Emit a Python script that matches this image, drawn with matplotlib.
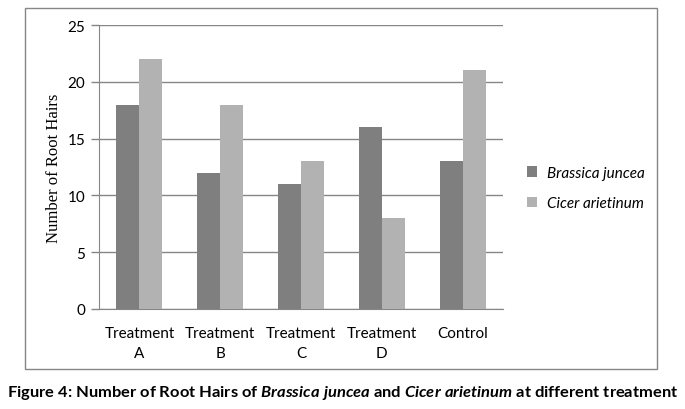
import matplotlib
matplotlib.use("Agg")
import matplotlib.pyplot as plt
import numpy as np
from matplotlib.patches import Rectangle

categories = ["Treatment\nA", "Treatment\nB", "Treatment\nC", "Treatment\nD", "Control"]
brassica = [18, 12, 11, 16, 13]
cicer = [22, 18, 13, 8, 21]
series_names = ["Brassica juncea", "Cicer arietinum"]
y_ticks = [0, 5, 10, 15, 20, 25]

dark = "#7f7f7f"
light = "#b2b2b2"
line_col = "#868686"
font = "Lato"

# italic species names in the caption, bold like the rest of it
plt.rcParams["mathtext.fontset"] = "custom"
plt.rcParams["mathtext.it"] = "Lato:italic:bold"
plt.rcParams["mathtext.rm"] = "Lato:bold"

fig = plt.figure(figsize=(6.85, 4.10), dpi=100)

# outer chart frame
fig.patches.append(Rectangle((25 / 685, 1 - 370 / 410), (657 - 25) / 685, (370 - 9) / 410,
                             transform=fig.transFigure, fill=False,
                             edgecolor=line_col, linewidth=1.0))

ax = fig.add_axes([99 / 685, 1 - 310 / 410, (503 - 99) / 685, (310 - 26) / 410])

x = np.arange(len(categories))
w = 0.285
ax.bar(x - w / 2, brassica, w, color=dark, label=series_names[0], zorder=3)
ax.bar(x + w / 2, cicer, w, color=light, label=series_names[1], zorder=3)

ax.set_xlim(-0.5, len(categories) - 0.5)
ax.set_ylim(0, 25)
ax.set_yticks(y_ticks)
ax.yaxis.grid(True, color=line_col, linewidth=1.0, zorder=0)
ax.set_xticks(x)
ax.set_xticklabels(categories, fontfamily=font, fontsize=11, linespacing=1.6)
ax.tick_params(axis="x", length=0, pad=12)
ax.tick_params(axis="y", length=6, color=line_col, width=1.0, labelsize=11, pad=4)
for lab in ax.get_yticklabels():
    lab.set_fontfamily(font)

for side in ["top", "right"]:
    ax.spines[side].set_visible(False)
ax.spines["left"].set_color(line_col)
ax.spines["bottom"].set_color(line_col)

ax.set_ylabel("Number of Root Hairs", fontfamily="Liberation Serif", fontsize=12, labelpad=4)

leg = fig.legend(loc="center left", bbox_to_anchor=(513 / 685, 1 - 189 / 410),
                 frameon=False, prop={"family": font, "style": "italic", "size": 11},
                 handlelength=0.7, handleheight=0.7, handletextpad=0.6, labelspacing=1.1)

fig.text(0.5, 1 - 393 / 410,
         r"Figure 4: Number of Root Hairs of $Brassica\ juncea$ and $Cicer\ arietinum$ at different treatment",
         ha="center", va="center", fontsize=11.85, fontweight="bold", fontfamily=font)

fig.savefig("out.png", dpi=100)
